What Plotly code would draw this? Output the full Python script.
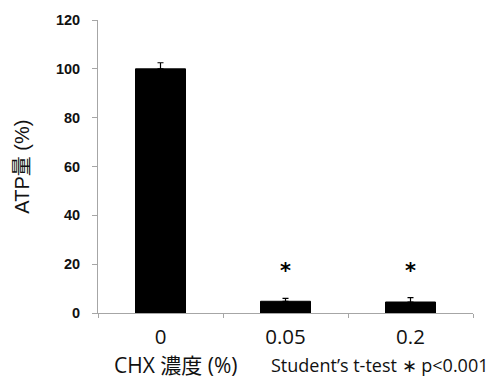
import plotly.graph_objects as go

# CHX concentration groups and measured ATP levels (% of control)
concentrations = ["0", "0.05", "0.2"]
atp_percent = [100, 4.8, 4.5]
atp_error = [2.5, 1.2, 1.8]
significance = ["", "*", "*"]
star_height = [None, 16.5, 16.5]
y_ticks = [0, 20, 40, 60, 80, 100, 120]

fig = go.Figure()

fig.add_trace(go.Bar(
    x=concentrations,
    y=atp_percent,
    width=0.4,
    marker=dict(color="black", line=dict(color="black", width=1)),
    error_y=dict(type="data", array=atp_error, arrayminus=[0, 0, 0],
                 color="black", thickness=1.2, width=3),
    showlegend=False,
))

fig.add_trace(go.Scatter(
    x=concentrations,
    y=star_height,
    mode="text",
    text=significance,
    textfont=dict(family="DejaVu Sans", size=21, color="black", weight="bold"),
    showlegend=False,
))

fig.update_layout(
    width=494, height=385,
    margin=dict(l=98, r=21, t=13, b=72),
    paper_bgcolor="white", plot_bgcolor="white",
    bargap=0.6,
)

fig.update_yaxes(
    range=[0, 120], tickvals=y_ticks,
    showline=True, linecolor="#a6a6a6", linewidth=1,
    ticks="outside", ticklen=5, tickcolor="#a6a6a6",
    ticklabelstandoff=9,
    showgrid=False, zeroline=False,
    tickfont=dict(family="Liberation Sans, Arial", size=14.5, color="#111111", weight="bold"),
)

fig.update_xaxes(
    showline=True, linecolor="#a6a6a6", linewidth=1,
    ticks="outside", tickson="boundaries", ticklen=4, tickcolor="#a6a6a6",
    ticklabelstandoff=5,
    showgrid=False,
    tickfont=dict(family="Open Sans, Liberation Sans", size=20.5, color="#111111"),
)

# Axis titles and the statistics note
fig.add_annotation(
    text="ATP量 (%)", xref="paper", yref="paper", textangle=-90,
    x=-0.205, y=0.5, xanchor="center", yanchor="middle", showarrow=False,
    font=dict(family="Liberation Sans, Noto Sans CJK JP", size=20, color="#111111"),
)
fig.add_annotation(
    text="CHX 濃度 (%)", xref="paper", yref="paper",
    x=0.037, y=-0.177, xanchor="left", yanchor="middle", showarrow=False,
    font=dict(family="Open Sans, Noto Sans CJK JP", size=21, color="#111111"),
)
fig.add_annotation(
    text="Student’s t-test ∗ p<0.001", xref="paper", yref="paper",
    x=1.045, y=-0.177, xanchor="right", yanchor="middle", showarrow=False,
    font=dict(family="Open Sans, Liberation Sans", size=18, color="#111111"),
)

fig.write_html("out.html")
